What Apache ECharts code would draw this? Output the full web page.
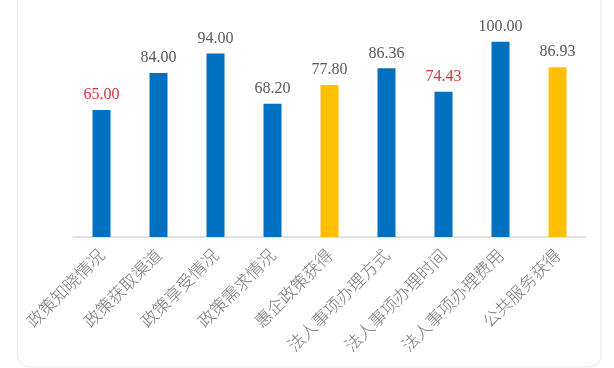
<!DOCTYPE html>
<html>
<head>
<meta charset="utf-8">
<script src="https://cdn.jsdelivr.net/npm/echarts@6/dist/echarts.min.js"></script>
<style>html,body{margin:0;padding:0;background:#fff;}#c{width:614px;height:368px;}</style>
</head>
<body>
<div id="c"></div>
<script>
const categories = ['政策知晓情况','政策获取渠道','政策享受情况','政策需求情况','惠企政策获得','法人事项办理方式','法人事项办理时间','法人事项办理费用','公共服务获得'];
const values = [65.00, 84.00, 94.00, 68.20, 77.80, 86.36, 74.43, 100.00, 86.93];
const highlighted = [4, 8];      // yellow bars
const redLabels = [0, 6];        // red value labels

const chart = echarts.init(document.getElementById('c'), null, {renderer: 'canvas'});
chart.setOption({
  animation: false,
  graphic: [{
    type: 'rect', shape: {x: 17.5, y: -20, width: 583.5, height: 387, r: 12},
    style: {fill: 'none', stroke: '#e6e6e6', lineWidth: 1}, z: -1
  }],
  grid: {left: 73, right: 28, top: 41.7, bottom: 131},
  xAxis: {
    type: 'category', data: categories,
    axisLine: {lineStyle: {color: '#d9d9d9', width: 1.5}},
    axisTick: {show: false},
    axisLabel: {rotate: 45, interval: 0, margin: 15, color: '#7a7a7a', fontSize: 17, fontWeight: 300, fontFamily: 'Noto Sans CJK SC'}
  },
  yAxis: {type: 'value', min: 0, max: 100, show: false, splitLine: {show: false}},
  series: [{
    type: 'bar', barWidth: 18,
    data: values.map((v, i) => ({
      value: v,
      itemStyle: {color: highlighted.includes(i) ? '#ffc000' : '#0070c0'},
      label: {color: redLabels.includes(i) ? '#e42d3a' : '#595959'}
    })),
    label: {show: true, position: 'top', distance: 7, fontSize: 16, fontFamily: 'Liberation Serif',
      formatter: p => p.value.toFixed(2)}
  }]
});
</script>
</body>
</html>
